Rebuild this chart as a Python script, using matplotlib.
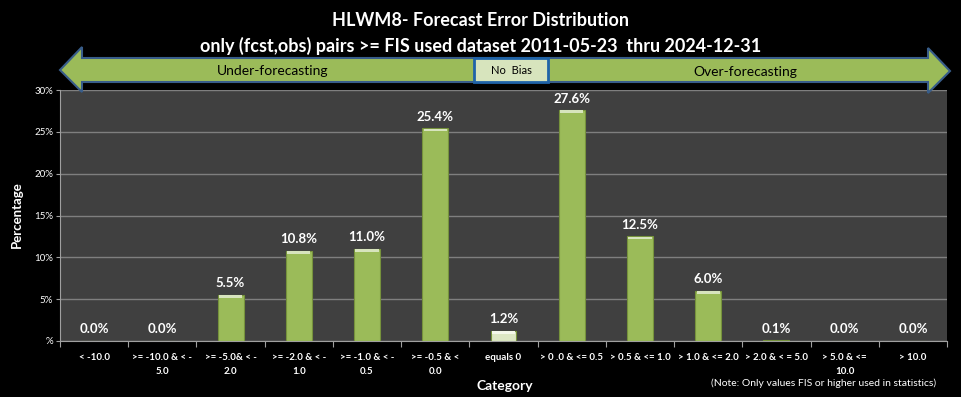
import matplotlib.pyplot as plt
from matplotlib.patches import Polygon, Rectangle
from matplotlib.ticker import FixedLocator, FuncFormatter

W, H = 961, 397

categories = [
    "< -10.0",
    ">= -10.0 & < -\n5.0",
    ">= -5.0& < -\n2.0",
    ">= -2.0 & < -\n1.0",
    ">= -1.0 & < -\n0.5",
    ">= -0.5 & <\n0.0",
    "equals 0",
    "> 0 .0 & <= 0.5",
    "> 0.5 & <= 1.0",
    "> 1.0 & <= 2.0",
    "> 2.0 & < = 5.0",
    "> 5.0 & <=\n10.0",
    "> 10.0",
]
percent = [0.0, 0.0, 5.5, 10.8, 11.0, 25.4, 1.2, 27.6, 12.5, 6.0, 0.1, 0.0, 0.0]
y_ticks = [0, 5, 10, 15, 20, 25, 30]

title1 = "HLWM8- Forecast Error Distribution"
title2 = "only (fcst,obs) pairs >= FIS used dataset 2011-05-23  thru 2024-12-31"

plt.rcParams["font.family"] = ["Lato", "DejaVu Sans"]

GREEN = "#9bbb59"
GREEN_EDGE = "#76923c"
BG = "#404040"


def fx(px):
    return px / W


def fy(py):
    return 1 - py / H


fig = plt.figure(figsize=(W / 100, H / 100), dpi=100, facecolor="black")
ax = fig.add_axes([fx(60), fy(341), fx(947) - fx(60), fy(90) - fy(341)])
ax.set_facecolor(BG)

xs = list(range(len(categories)))
colors = [GREEN] * len(categories)
colors[categories.index("equals 0")] = "#dde8c4"
ax.bar(xs, percent, width=0.38, color=colors, edgecolor=GREEN_EDGE, linewidth=0.8, zorder=3)
# light bevel on top of each bar
for x, v, c in zip(xs, percent, colors):
    if v > 0.3:
        ax.add_patch(Rectangle((x - 0.17, v - 0.35), 0.34, 0.3,
                               facecolor="#d7e4bd" if c == GREEN else "#f4f8ea",
                               edgecolor="none", zorder=4))
    ax.annotate(f"{v:.1f}%", (x, v), xytext=(0, 4), textcoords="offset points",
                ha="center", va="bottom", color="white", fontsize=9.5,
                fontweight="bold", zorder=5)

ax.set_xlim(-0.5, len(categories) - 0.5)
ax.set_ylim(0, 30)
ax.yaxis.set_major_locator(FixedLocator(y_ticks))
ax.yaxis.set_major_formatter(FuncFormatter(lambda v, _: f"{v:.0f}%" if v else "%"))
ax.grid(axis="y", color="#7f7f7f", linewidth=1.0, zorder=1)
ax.set_axisbelow(True)

ax.xaxis.set_major_locator(FixedLocator([i - 0.5 for i in range(len(categories) + 1)]))
ax.xaxis.set_major_formatter(FuncFormatter(lambda v, _: ""))
ax.xaxis.set_minor_locator(FixedLocator(xs))
ax.set_xticklabels(categories, minor=True)
ax.tick_params(axis="x", which="major", length=4, color="#a0a0a0", direction="out")
ax.tick_params(axis="x", which="minor", length=0, pad=9, labelsize=7,
               labelcolor="white")
for lbl in ax.get_xticklabels(minor=True):
    lbl.set_fontweight("bold")
    lbl.set_linespacing(1.6)
ax.tick_params(axis="y", length=3, color="#a0a0a0", labelsize=7, labelcolor="white", pad=2)

for side in ("top", "right"):
    ax.spines[side].set_visible(False)
for side in ("left", "bottom"):
    ax.spines[side].set_color("#a0a0a0")

# titles
fig.text(0.5, fy(20), title1, ha="center", va="center", color="white",
         fontsize=13, fontweight="bold")
fig.text(0.5, fy(46), title2, ha="center", va="center", color="white",
         fontsize=13, fontweight="bold")

# double arrow banner
arrow_px = [(60, 70), (82, 47), (82, 58), (928, 58), (928, 48), (950, 71),
            (928, 93), (928, 82), (82, 82), (82, 92)]
fig.patches.append(Polygon([(fx(x), fy(y)) for x, y in arrow_px], closed=True,
                           transform=fig.transFigure, facecolor=GREEN,
                           edgecolor="#385d8a", linewidth=1.5))
fig.patches.append(Rectangle((fx(474), fy(82)), fx(548) - fx(474), fy(58) - fy(82),
                             transform=fig.transFigure, facecolor="#d7e4bd",
                             edgecolor="#1f63a8", linewidth=2))
fig.text(fx(511), fy(71), "No  Bias", ha="center", va="center", color="black", fontsize=8)
fig.text(fx(273), fy(71), "Under-forecasting", ha="center", va="center",
         color="black", fontsize=10)
fig.text(fx(745), fy(72), "Over-forecasting", ha="center", va="center",
         color="black", fontsize=10)

# axis labels and note
fig.text(fx(17), fy(215), "Percentage", rotation=90, ha="center", va="center",
         color="white", fontsize=9.5, fontweight="bold")
fig.text(fx(505), fy(386), "Category", ha="center", va="center",
         color="white", fontsize=10, fontweight="bold")
fig.text(fx(824), fy(383), "(Note: Only values FIS or higher used in statistics)",
         ha="center", va="center", color="white", fontsize=7.5)

fig.savefig("out.png", dpi=100, facecolor="black")
